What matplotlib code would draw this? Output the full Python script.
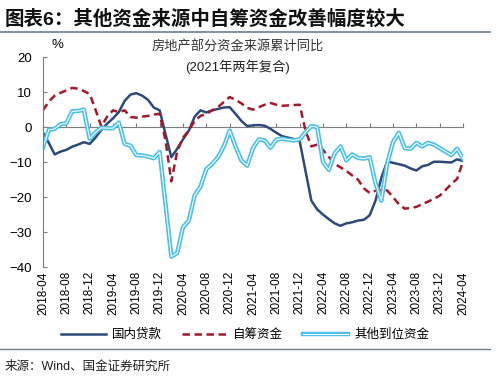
import numpy as np
import matplotlib.pyplot as plt
from matplotlib import patheffects as pe
from matplotlib.lines import Line2D

plt.rcParams['font.family'] = ['Liberation Sans', 'Noto Sans CJK SC', 'DejaVu Sans']

# monthly, 2018-04 .. 2024-04
months = [f"{y}-{m:02d}" for y in range(2018, 2025) for m in range(1, 13)]
months = months[3:3 + 73]

domestic_loans = [
    -1.6, -4.5, -7.8, -7.0, -6.5, -5.6, -5.0, -4.3, -4.8, -3.0,
    -0.8, 1.0, 2.5, 4.3, 7.5, 9.3, 9.7, 9.0, 7.8, 5.6,
    4.8, -2.0, -8.6, -6.2, -3.5, -1.0, 3.0, 4.8, 4.2, 4.8,
    5.2, 5.6, 5.7, 3.8, 1.8, 0.3, 0.5, 0.6, 0.4, -0.5,
    -1.6, -2.6, -3.0, -3.4, -4.0, -12.5, -21.0, -23.5, -25.0, -26.3,
    -27.5, -28.2, -27.5, -27.2, -26.7, -26.5, -25.2, -21.0, -14.5, -9.8,
    -10.2, -10.6, -11.0, -11.8, -12.4, -11.2, -10.8, -9.9, -9.9, -10.0,
    -10.1, -9.2, -9.7,
]
self_raised = [
    4.8, 7.3, 9.0, 9.8, 10.5, 11.2, 11.0, 10.3, 9.5, 5.0,
    0.2, 3.0, 4.8, 4.3, 4.8, 2.9, 2.7, 3.0, 3.2, 3.6,
    3.8, -3.8, -15.5, -7.0, -3.0, -1.0, 1.8, 3.2, 3.8, 4.8,
    5.7, 7.2, 8.6, 7.8, 6.8, 5.5, 5.0, 5.7, 6.4, 6.9,
    6.4, 6.1, 6.2, 6.3, 6.4, -1.0, -5.5, -5.0, -6.5, -8.5,
    -10.5, -11.5, -12.5, -13.8, -15.0, -17.5, -18.8, -18.2, -18.0, -18.1,
    -20.0, -22.0, -23.3, -23.1, -22.8, -22.0, -21.3, -20.5, -19.6, -18.0,
    -16.2, -14.8, -9.8,
]
other_funds = [
    -5.7, -0.8, -0.5, 0.8, 1.1, 4.5, 4.6, 5.0, -3.3, -1.5,
    -0.2, -0.3, -0.3, 1.3, -4.8, -5.3, -8.0, -8.1, -8.4, -8.9,
    -7.1, -22.0, -37.0, -36.0, -28.6, -26.7, -19.5, -17.0, -12.0, -10.5,
    -8.6, -5.5, -1.0, -5.5, -9.5, -11.0, -6.0, -3.5, -3.8, -5.9,
    -3.6, -3.3, -3.6, -3.8, -3.5, -1.5, 0.3, 0.0, -10.0, -12.2,
    -7.5, -5.5, -9.5, -7.8, -8.8, -9.0, -8.6, -16.0, -21.0, -10.5,
    -4.3, -1.6, -6.0, -6.2, -4.5, -5.5, -4.5, -5.0, -6.0, -7.0,
    -8.0, -6.2, -9.0,
]

navy = '#2e4a78'
red = '#a3192b'
cyan = '#4cc0e8'
grey = '#7f7f7f'

fig = plt.figure(figsize=(5.0, 3.81), dpi=100)
ax = fig.add_axes([0.086, 0.299, 0.84, 0.551])

x = np.arange(len(months))
ax.plot(x, domestic_loans, color=navy, lw=1.8, label='国内贷款')
ax.plot(x, self_raised, color=red, lw=1.8, ls=(0, (3, 1.8)), label='自筹资金')
ax.plot(x, other_funds, color='white', lw=0.8, label='其他到位资金',
        path_effects=[pe.Stroke(linewidth=3.2, foreground=cyan), pe.Normal()])

ax.set_xlim(0, 72)
ax.set_ylim(-40, 20)
ax.set_yticks(range(-40, 21, 10))
ax.tick_params(axis='y', direction='in', length=3, color=grey, labelsize=9.5, pad=8)

for s in ['top', 'right']:
    ax.spines[s].set_visible(False)
ax.spines['left'].set_color(grey)
ax.spines['bottom'].set_position(('data', 0))
ax.spines['bottom'].set_color(grey)
ax.spines['bottom'].set_zorder(0)
ticks = list(range(0, 73, 4))
ax.set_xticks(ticks)
ax.tick_params(axis='x', direction='in', length=3, color=grey, labelbottom=False)

sec = ax.secondary_xaxis(0)
sec.set_xticks(ticks)
sec.set_xticklabels([months[i] for i in ticks], rotation=90, fontsize=8.5)
sec.tick_params(length=0, pad=3)
sec.spines['bottom'].set_visible(False)

fig.text(0.103, 0.873, '%', fontsize=9.5, ha='left')
fig.text(0.475, 0.866, '房地产部分资金来源累计同比', fontsize=9.5, ha='center',
         color='#333333')
fig.text(0.475, 0.813, '(2021年两年复合)', fontsize=9.5, ha='center',
         color='#222222')

# title, rules and source
fig.text(0.01, 0.95, '图表6：其他资金来源中自筹资金改善幅度较大', fontsize=14,
         fontweight='bold', ha='left', va='center', color='#111111')
fig.add_artist(Line2D([0, 0.98], [0.916, 0.916], color='#6d7f8c', lw=1.2))
fig.add_artist(Line2D([0, 0.98], [0.084, 0.084], color='#6d7f8c', lw=1.0))
fig.text(0.01, 0.037, '来源：Wind、国金证券研究所', fontsize=9, ha='left',
         va='center', color='#222222')

fig.legend(loc='center', bbox_to_anchor=(0.49, 0.121), ncol=3, frameon=False,
           fontsize=9, handlelength=3.6, columnspacing=1.6, handletextpad=0.5)

fig.savefig('out.png', dpi=100)
